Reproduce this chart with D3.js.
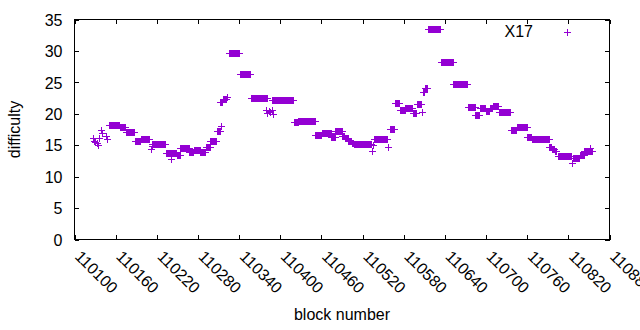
<!DOCTYPE html>
<html>
<head>
<meta charset="utf-8">
<script src="https://cdn.jsdelivr.net/npm/d3@7"></script>
<style>
  body { margin: 0; background: #fff; }
  text { font-family: "Liberation Sans", Arial, sans-serif; font-size: 16px; fill: #000; }
</style>
</head>
<body>
<script>
// Difficulty per block, stored as runs of constant value: first block, last block, difficulty
const runStart = [110127, 110129, 110131, 110133, 110135, 110137, 110140, 110141, 110147, 110148,
  110151, 110167, 110176, 110189, 110197, 110212, 110213, 110214, 110234, 110241,
  110250, 110255, 110268, 110275, 110284, 110292, 110299, 110308, 110314, 110313,
  110317, 110323, 110326, 110342, 110358, 110380, 110382, 110384, 110386, 110388,
  110390, 110389, 110421, 110427, 110452, 110461, 110475, 110481, 110491, 110495,
  110500, 110505, 110508, 110535, 110536, 110537, 110558, 110560, 110568, 110575,
  110583, 110594, 110600, 110607, 110609, 110612, 110616, 110635, 110653, 110674,
  110685, 110692, 110700, 110706, 110711, 110719, 110737, 110746, 110761, 110768,
  110793, 110797, 110801, 110805, 110826, 110827, 110837, 110844, 110853];
const runEnd = [110127, 110129, 110131, 110133, 110135, 110137, 110140, 110141, 110147, 110148,
  110166, 110175, 110188, 110196, 110210, 110212, 110213, 110233, 110249, 110241,
  110254, 110267, 110274, 110283, 110291, 110298, 110307, 110313, 110314, 110316,
  110322, 110323, 110341, 110357, 110382, 110380, 110382, 110384, 110386, 110388,
  110390, 110420, 110426, 110451, 110460, 110474, 110480, 110490, 110494, 110499,
  110504, 110507, 110533, 110535, 110536, 110557, 110558, 110567, 110574, 110582,
  110593, 110599, 110606, 110607, 110611, 110615, 110634, 110652, 110673, 110684,
  110691, 110699, 110705, 110709, 110718, 110736, 110745, 110760, 110767, 110792,
  110796, 110800, 110803, 110825, 110826, 110836, 110843, 110855, 110853];
const runValue = [16.0, 15.6, 15.4, 15.2, 15.0, 16.1, 17.3, 16.8, 16.4, 15.9,
  18.2, 17.85, 17.05, 15.6, 15.95, 14.35, 14.8, 15.15, 13.7, 12.8,
  13.4, 14.5, 13.8, 14.2, 13.9, 14.6, 15.6, 17.2, 17.9, 21.8,
  22.2, 22.6, 29.55, 26.3, 22.45, 20.6, 20.0, 20.4, 20.2, 20.5,
  19.9, 22.15, 18.65, 18.8, 16.5, 16.9, 16.15, 17.15, 16.4, 16.0,
  15.6, 15.3, 15.15, 14.0, 15.0, 15.95, 14.7, 17.5, 21.65, 20.6,
  20.85, 20.0, 21.5, 20.2, 23.4, 24.0, 33.4, 28.1, 24.6, 20.95,
  19.8, 20.9, 20.35, 20.9, 21.1, 20.25, 17.3, 17.85, 16.3, 15.95,
  14.7, 14.3, 13.95, 13.2, 12.1, 12.9, 13.3, 13.95, 14.4];

const xTicks = [110100, 110160, 110220, 110280, 110340, 110400, 110460, 110520,
  110580, 110640, 110700, 110760, 110820, 110880];
const yTicks = [0, 5, 10, 15, 20, 25, 30, 35];
const seriesName = "X17";

const margin = { top: 19.5, right: 30.5, bottom: 90.5, left: 74.5 };
const width = 640 - margin.left - margin.right;
const height = 330 - margin.top - margin.bottom;
const color = "#9400d3";
const tickLen = 4.5;

// one point per block
const points = [];
runStart.forEach((s, i) => {
  for (let b = s; b <= runEnd[i]; b++) points.push({ block: b, diff: runValue[i] });
});

const x = d3.scaleLinear().domain([110100, 110880]).range([0, width]);
const y = d3.scaleLinear().domain([0, 35]).range([height, 0]);

const svg = d3.select("body").append("svg")
  .attr("width", 640)
  .attr("height", 330);

const g = svg.append("g")
  .attr("transform", "translate(" + margin.left + "," + margin.top + ")");

// axes, ticks pointing inward (gnuplot style) + mirrored ticks
const yAxis = g.append("g").call(d3.axisLeft(y).tickValues(yTicks).tickSize(-tickLen).tickPadding(12));
g.append("g").attr("transform", "translate(" + width + ",0)")
  .call(d3.axisRight(y).tickValues(yTicks).tickSize(-tickLen).tickFormat(""));
const xAxis = g.append("g").attr("transform", "translate(0," + height + ")")
  .call(d3.axisBottom(x).tickValues(xTicks).tickSize(-tickLen).tickFormat(d3.format("d")));
g.append("g")
  .call(d3.axisTop(x).tickValues(xTicks).tickSize(-tickLen).tickFormat(""));

g.selectAll(".domain").remove();
g.selectAll(".tick line").attr("stroke", "#000").attr("shape-rendering", "crispEdges");
g.selectAll(".tick text").attr("font-size", 16).attr("font-family", null);

yAxis.selectAll(".tick text").attr("dy", "0.36em");

xAxis.selectAll(".tick text")
  .attr("text-anchor", "start")
  .attr("y", 0)
  .attr("dy", "0.7em")
  .attr("transform", "translate(7,10) rotate(45)");

g.append("rect")
  .attr("width", width)
  .attr("height", height)
  .attr("fill", "none")
  .attr("stroke", "#000")
  .attr("shape-rendering", "crispEdges");

// points
const plus = "M-3.5,0H3.5M0,-3.5V3.5";
g.append("g")
  .attr("stroke", color)
  .attr("fill", "none")
  .attr("shape-rendering", "crispEdges")
  .selectAll("path")
  .data(points)
  .join("path")
  .attr("d", plus)
  .attr("transform", d => "translate(" + x(d.block) + "," + y(d.diff) + ")");

// legend
const legend = g.append("g").attr("transform", "translate(" + (533 - margin.left) + "," + (37.3 - margin.top) + ")");
legend.append("text").attr("text-anchor", "end").text(seriesName);
legend.append("path")
  .attr("d", plus)
  .attr("stroke", color)
  .attr("shape-rendering", "crispEdges")
  .attr("transform", "translate(34,-4.8)");

// axis titles
svg.append("text")
  .attr("transform", "translate(19.5," + (margin.top + height / 2) + ") rotate(-90)")
  .attr("text-anchor", "middle")
  .text("difficulty");

svg.append("text")
  .attr("x", margin.left + width / 2)
  .attr("y", 320)
  .attr("text-anchor", "middle")
  .text("block number");
</script>
</body>
</html>
